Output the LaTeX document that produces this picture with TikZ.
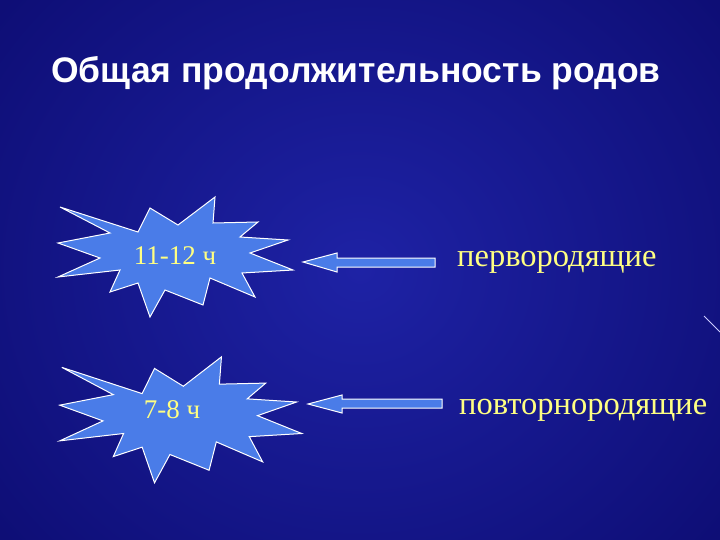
\documentclass[tikz,border=0pt]{standalone}
\usepackage{fontspec}
\setmainfont{Liberation Serif}
\newfontfamily\titlefont{Liberation Sans}
\begin{document}
\begin{tikzpicture}[x=1pt,y=-1pt,
  starshape/.style={fill=starblue,draw=white,line width=1pt,line join=miter},
  arrowshape/.style={fill=starblue,draw=white,line width=1pt},
  lab/.style={text=labyellow,font=\fontsize{27}{27}\selectfont,inner sep=0pt},
  rlab/.style={text=labyellow,font=\fontsize{32.5}{33}\selectfont,inner sep=0pt,anchor=west}]
\definecolor{starblue}{RGB}{74,124,232}
\definecolor{labyellow}{RGB}{255,255,130}
\definecolor{bgdark}{RGB}{14,14,118}
\definecolor{bglight}{RGB}{30,34,165}
\useasboundingbox (0,0) rectangle (720,540);
\shade[inner color=bglight,outer color=bgdark] (-100,-150) rectangle (820,690);
\node[text=white,font=\titlefont\bfseries\fontsize{35.5}{36}\selectfont,inner sep=0pt] (title) at (356,73) {Общая продолжительность родов};
\draw[starshape] (60,207)--(110,233)--(58,243)--(100,258)--(58,277)--(120,270)--(110,292)--(138,283)--(150,317)--(165,290)--(203,305)--(210,278)--(255,297)--(242,273)--(293,270)--(250,253)--(288,240)--(240,237)--(258,222)--(213,223)--(215,197)--(178,225)--(150,208)--(138,232)--cycle;
\node[lab] (s1) at (175,256) {11-12 ч};
\begin{scope}[shift={(0,150)},xscale=1.03,yscale=1.05]
\draw[starshape] (60,207)--(110,233)--(58,243)--(100,258)--(58,277)--(120,270)--(110,292)--(138,283)--(150,317)--(165,290)--(203,305)--(210,278)--(255,297)--(242,273)--(293,270)--(250,253)--(288,240)--(240,237)--(258,222)--(213,223)--(215,197)--(178,225)--(150,208)--(138,232)--cycle;
\end{scope}
\node[lab] (s2) at (172,410) {7-8 ч};
\draw[arrowshape] (303,262)--(337,253)--(337,258)--(435,258)--(435,267)--(337,267)--(337,272)--cycle;
\draw[arrowshape] (308,404)--(342,395)--(342,399)--(442,399)--(442,408)--(342,408)--(342,413)--cycle;
\node[rlab] (r1) at (457,262) {первородящие};
\node[rlab] (r2) at (459,410) {повторнородящие};
\draw[white!80!blue,line width=1pt] (704,316)--(720,332);
\end{tikzpicture}
\end{document}
